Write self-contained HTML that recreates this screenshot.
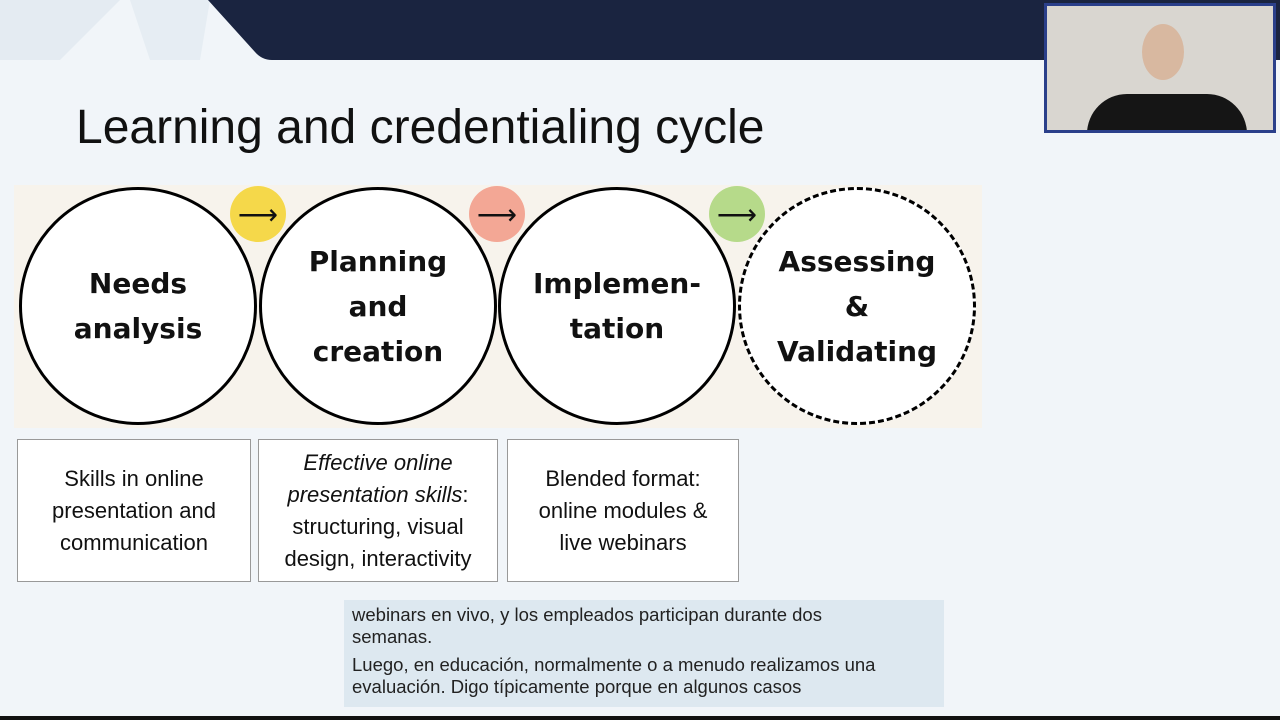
<!DOCTYPE html>
<html><head><meta charset="utf-8"><style>
body{margin:0;width:1280px;height:720px;overflow:hidden;background:#f1f5f9;font-family:"Liberation Sans",sans-serif;position:relative}
.abs{position:absolute}
.c{position:absolute;width:238px;height:238px;border:3px solid #000;border-radius:50%;background:#fff;display:flex;align-items:center;justify-content:center;text-align:center;font-family:"DejaVu Sans","Liberation Sans",sans-serif;font-weight:bold;font-size:28px;line-height:45px;color:#111;box-sizing:border-box}
.a{position:absolute;width:56px;height:56px;border-radius:50%;font-size:28px;display:flex;align-items:center;justify-content:center;color:#111}
.b{position:absolute;top:439px;height:143px;border:1px solid #999;background:#fff;box-sizing:border-box;display:flex;align-items:center;justify-content:center;text-align:center;font-size:22px;line-height:32px;color:#111}
</style></head><body>
<svg class="abs" style="left:0;top:0" width="1280" height="720">
<polygon points="0,0 120,0 60,60 0,60" fill="#e4ebf2"/>
<polygon points="130,0 210,0 200,60 150,60" fill="#e6edf3"/>
<path d="M208,0 L1280,0 L1280,60 L272,60 Q262,60 255,52 Z" fill="#1a2440"/>
<rect x="0" y="716" width="1280" height="4" fill="#111"/>
</svg>
<div class="abs" style="left:76px;top:100px;font-size:48px;color:#111">Learning and credentialing cycle</div>
<div class="abs" style="left:14px;top:185px;width:968px;height:243px;background:#f7f3ec"></div>
<div class="c" style="left:19px;top:187px">Needs<br>analysis</div>
<div class="c" style="left:259px;top:187px">Planning<br>and<br>creation</div>
<div class="c" style="left:498px;top:187px">Implemen-<br>tation</div>
<div class="c" style="left:738px;top:187px;border:3px dashed #000">Assessing<br>&amp;<br>Validating</div>
<div class="a" style="left:230px;top:186px;background:#f5d84a">⟶</div>
<div class="a" style="left:469px;top:186px;background:#f3a795">⟶</div>
<div class="a" style="left:709px;top:186px;background:#b6da8a">⟶</div>
<div class="b" style="left:17px;width:234px">Skills in online<br>presentation and<br>communication</div>
<div class="b" style="left:258px;width:240px"><div><i>Effective online<br>presentation skills</i>:<br>structuring, visual<br>design, interactivity</div></div>
<div class="b" style="left:507px;width:232px">Blended format:<br>online modules &amp;<br>live webinars</div>
<div class="abs" style="left:344px;top:600px;width:600px;height:107px;background:#dde8f0"></div>
<div class="abs" style="left:352px;top:604px;font-size:18.5px;line-height:22px;color:#222">webinars en vivo, y los empleados participan durante dos<br>semanas.</div>
<div class="abs" style="left:352px;top:654px;font-size:18.5px;line-height:22px;color:#222">Luego, en educación, normalmente o a menudo realizamos una<br>evaluación. Digo típicamente porque en algunos casos</div>
<div class="abs" style="left:1044px;top:3px;width:232px;height:130px;background:#2a3f8a"></div>
<div class="abs" style="left:1047px;top:6px;width:226px;height:124px;background:#d9d6d0;overflow:hidden">
<div class="abs" style="left:95px;top:18px;width:42px;height:56px;border-radius:50%;background:#d8b8a0"></div>
<div class="abs" style="left:40px;top:88px;width:160px;height:60px;border-radius:40px 40px 0 0;background:#151515"></div>
</div>
</body></html>
